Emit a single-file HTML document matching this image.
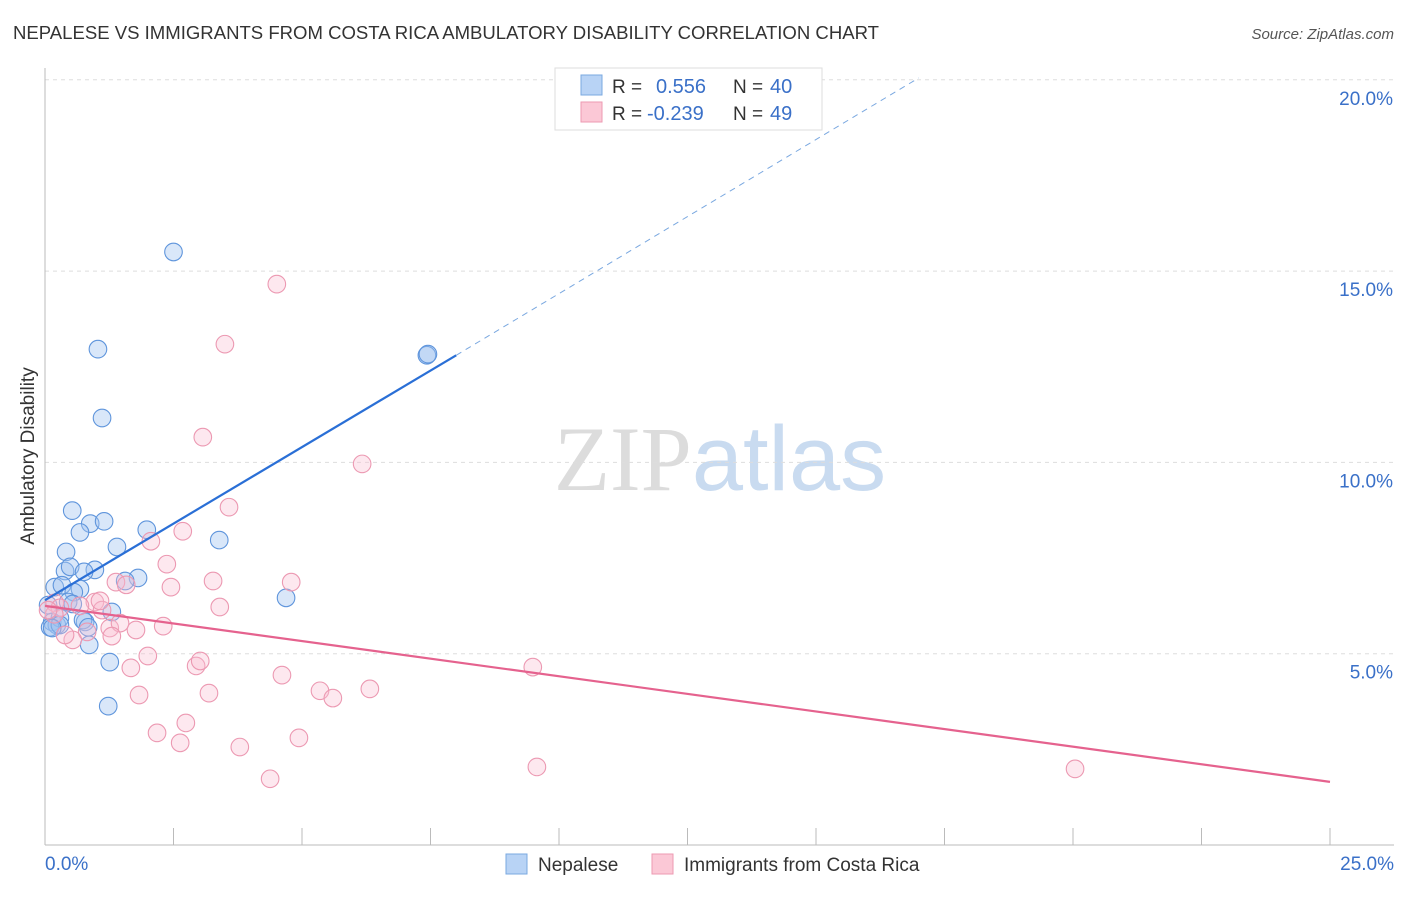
<!DOCTYPE html>
<html><head><meta charset="utf-8"><style>
body{margin:0;background:#fff;font-family:"Liberation Sans",sans-serif;}
svg text{font-family:"Liberation Sans",sans-serif;}
</style></head><body>
<svg id="chart" width="1406" height="892" xmlns="http://www.w3.org/2000/svg">
<text x="13" y="39" font-size="18.4" fill="#333" textLength="866" lengthAdjust="spacingAndGlyphs">NEPALESE VS IMMIGRANTS FROM COSTA RICA AMBULATORY DISABILITY CORRELATION CHART</text>
<text x="1394" y="39" font-size="15" font-style="italic" fill="#555" text-anchor="end">Source: ZipAtlas.com</text>
<text x="720" y="490" font-size="92" text-anchor="middle"><tspan fill="#dcdcdc" font-family="Liberation Serif">ZIP</tspan><tspan fill="#c9dbf0">atlas</tspan></text>
<text transform="translate(34,456) rotate(-90)" font-size="19" fill="#333" text-anchor="middle">Ambulatory Disability</text>
<g id="grid"></g><g id="axes"></g><g id="pts"></g><g id="lines"></g>
<g>
<rect x="555" y="68" width="267" height="62" fill="#fff" stroke="#ddd"/>
<rect x="581" y="75" width="21" height="20" fill="#b8d3f5" stroke="#7aa8e0"/>
<rect x="581" y="102" width="21" height="20" fill="#fbc8d6" stroke="#ec9ab2"/>
<text x="612" y="93" font-size="19" fill="#333">R =</text>
<text x="656" y="93" font-size="20" fill="#3a70c8">0.556</text>
<text x="733" y="93" font-size="19" fill="#333">N =</text>
<text x="770" y="93" font-size="20" fill="#3a70c8">40</text>
<text x="612" y="120" font-size="19" fill="#333">R =</text>
<text x="647" y="120" font-size="20" fill="#3a70c8">-0.239</text>
<text x="733" y="120" font-size="19" fill="#333">N =</text>
<text x="770" y="120" font-size="20" fill="#3a70c8">49</text>
</g>
<g>
<rect x="506" y="854" width="21" height="20" fill="#b8d3f5" stroke="#7aa8e0"/>
<text x="538" y="871" font-size="19" fill="#333">Nepalese</text>
<rect x="652" y="854" width="21" height="20" fill="#fbc8d6" stroke="#ec9ab2"/>
<text x="684" y="871" font-size="19" fill="#333">Immigrants from Costa Rica</text>
</g>
</svg>
<script>
const yTicks=[5,10,15,20];
const yTickLabels=["5.0%","10.0%","15.0%","20.0%"];
const xTickLabels=["0.0%","25.0%"];
const bluePts=[[2.5,15.5],[1.03,12.96],[1.11,11.16],[0.53,8.74],[0.88,8.4],[1.15,8.46],[0.68,8.17],[1.98,8.24],[0.41,7.66],[1.4,7.79],[3.39,7.97],[0.39,7.16],[0.49,7.27],[0.97,7.19],[0.76,7.14],[1.81,6.98],[0.19,6.74],[0.33,6.79],[0.68,6.69],[0.56,6.61],[1.56,6.9],[1.30,6.09],[4.69,6.46],[0.06,6.27],[0.45,6.35],[0.54,6.3],[0.14,5.83],[0.23,5.75],[0.29,5.93],[0.10,5.69],[0.78,5.83],[0.74,5.88],[0.84,5.69],[0.86,5.23],[1.26,4.78],[1.23,3.63],[7.43,12.8],[7.45,12.83],[0.29,5.75],[0.14,5.67]];
const pinkPts=[[4.51,14.66],[3.5,13.09],[3.07,10.66],[6.17,9.96],[3.58,8.83],[2.68,8.2],[2.06,7.94],[2.37,7.34],[1.38,6.87],[1.58,6.8],[2.45,6.74],[3.27,6.9],[4.79,6.87],[0.97,6.35],[0.19,6.33],[0.29,6.2],[0.68,6.25],[1.11,6.14],[3.4,6.22],[1.26,5.67],[1.46,5.8],[1.77,5.62],[2.3,5.72],[0.82,5.57],[0.54,5.36],[0.18,6.03],[1.30,5.46],[2.0,4.94],[1.67,4.63],[2.94,4.68],[3.02,4.81],[9.49,4.65],[4.61,4.44],[1.83,3.92],[3.19,3.97],[5.35,4.03],[5.6,3.84],[6.32,4.08],[2.18,2.93],[2.74,3.19],[2.63,2.67],[3.79,2.56],[4.94,2.8],[4.38,1.73],[9.57,2.04],[20.04,1.99],[0.39,5.49],[0.06,6.14],[1.07,6.38]];
const blueLine=[0.0,6.4,8.0,12.8];
const blueDash=[8.0,12.8,17.0,20.05];
const pinkLine=[0.0,6.25,25.0,1.65];
const NS="http://www.w3.org/2000/svg";
const X0=45,X1=1330,Y0=845,PY=38.26;
const sx=v=>X0+v*(X1-X0)/25, sy=v=>Y0-v*PY;
function mk(p,t,a){const e=document.createElementNS(NS,t);for(const k in a)e.setAttribute(k,a[k]);p.appendChild(e);return e;}
const grid=document.getElementById('grid'),axes=document.getElementById('axes'),pts=document.getElementById('pts'),lines=document.getElementById('lines');
yTicks.forEach((t,i)=>{
 const g=mk(grid,'line',{x1:X0,x2:1394,y1:sy(t),y2:sy(t),stroke:'#ddd','stroke-dasharray':'4,4'});
 
 
 const l=mk(axes,'text',{x:1393,y:sy(t)+25,'font-size':19,fill:'#3a70c8','text-anchor':'end'});
 l.textContent=yTickLabels[i];
 
 
});
const ya=mk(axes,'line',{x1:X0,x2:X0,y1:68,y2:Y0,stroke:'#bbb'});


const xa=mk(axes,'line',{x1:X0,x2:1394,y1:Y0,y2:Y0,stroke:'#bbb'});


for(let i=1;i<=10;i++){const tk=mk(axes,'line',{x1:sx(i*2.5),x2:sx(i*2.5),y1:828,y2:Y0,stroke:'#bbb'});
 
 }
[[0,'start',45],[25,'end',1394]].forEach((d,i)=>{const l=mk(axes,'text',{x:d[2],y:870,'font-size':19,fill:'#3a70c8','text-anchor':d[1]});l.textContent=xTickLabels[i];
 
 });
bluePts.forEach(p=>{const c=mk(pts,'circle',{cx:sx(p[0]),cy:sy(p[1]),r:8.8,fill:'rgba(160,196,240,0.4)',stroke:'#5f95dc','stroke-width':1.1});
 
 });
pinkPts.forEach(p=>{const c=mk(pts,'circle',{cx:sx(p[0]),cy:sy(p[1]),r:8.8,fill:'rgba(250,190,208,0.35)',stroke:'#ec99b2','stroke-width':1.1});
 
 });
const bl=mk(lines,'line',{x1:sx(blueLine[0]),y1:sy(blueLine[1]),x2:sx(blueLine[2]),y2:sy(blueLine[3]),stroke:'#2a6fd6','stroke-width':2.2});


const bd=mk(lines,'line',{x1:sx(blueDash[0]),y1:sy(blueDash[1]),x2:sx(blueDash[2]),y2:sy(blueDash[3]),stroke:'#7aa8e0','stroke-width':1,'stroke-dasharray':'6,5'});


const pl=mk(lines,'line',{x1:sx(pinkLine[0]),y1:sy(pinkLine[1]),x2:sx(pinkLine[2]),y2:sy(pinkLine[3]),stroke:'#e5628e','stroke-width':2.2});


</script>
</body></html>
